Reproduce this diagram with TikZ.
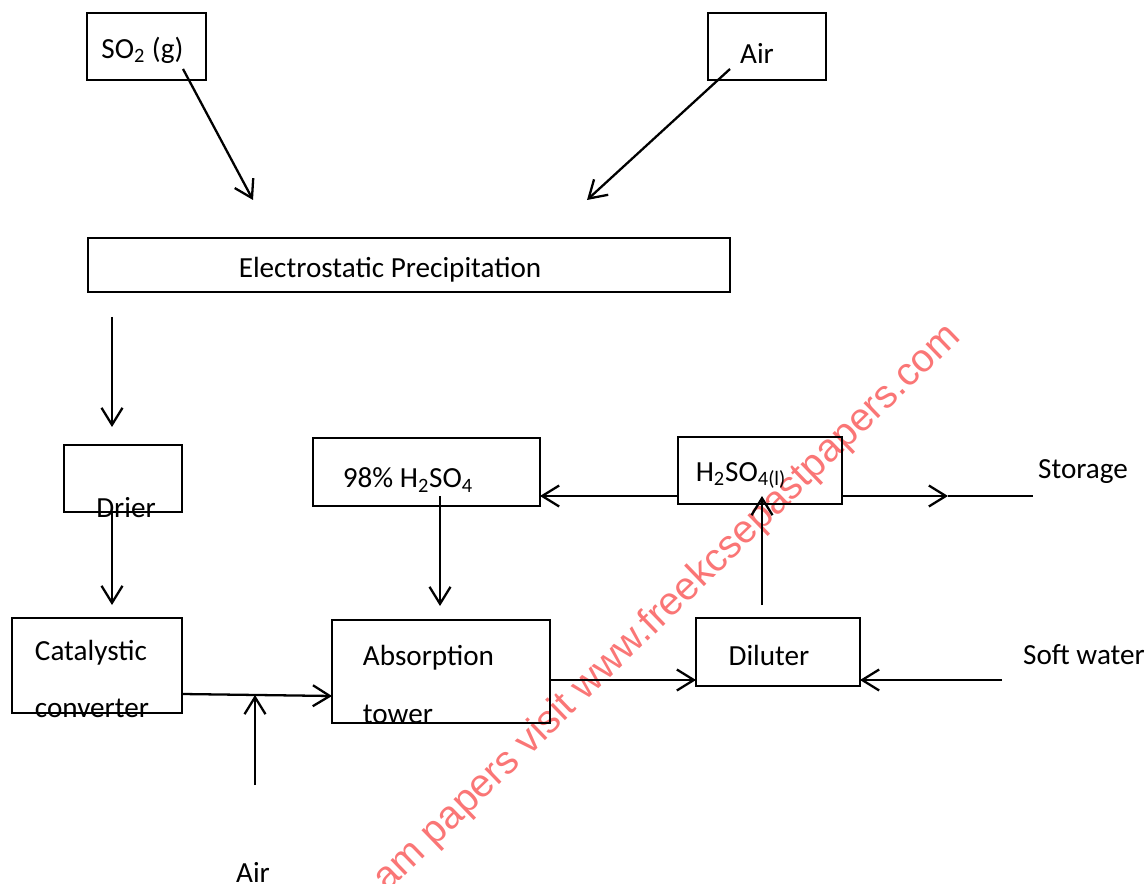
\documentclass[tikz,border=0pt]{standalone}
\usepackage{fontspec}
\setmainfont{Carlito}
\newfontfamily\wmfont{Liberation Sans}
\usetikzlibrary{arrows.meta, positioning, calc}
\definecolor{markred}{RGB}{250,118,118}

\begin{document}
\begin{tikzpicture}[
  x=0.02cm, y=-0.02cm,
  every node/.style={font=\fontsize{16.6}{20}\selectfont},
  box/.style={draw, line width=1.6pt, inner sep=0pt},
  arrow/.style={-{Straight Barb[length=3.4mm, width=4.2mm]}, line width=1.3pt},
  plain/.style={line width=1.3pt}
]
  \useasboundingbox (0,0) rectangle (1148,884);

  % Watermark
  \node[font=\wmfont\fontsize{22.4}{27}\selectfont, text=markred, rotate=44,
        anchor=base east, inner sep=0pt] (wmark) at (962,338)
    {am papers visit www.freekcsepastpapers.com};

  % Boxes
  \node[box, minimum width=2.38cm, minimum height=1.34cm,
        label={[xshift=-0.08cm, yshift=-0.07cm]center:SO\textsubscript{2} (g)}] (so2) at (146.5,46.5) {};
  \node[box, minimum width=2.36cm, minimum height=1.34cm,
        label={[xshift=-0.2cm, yshift=-0.13cm]center:Air}] (airtop) at (767,46.5) {};
  \node[box, minimum width=12.84cm, minimum height=1.08cm,
        label={[xshift=-0.38cm, yshift=-0.1cm]center:Electrostatic Precipitation}] (esp) at (409,265) {};
  \node[box, minimum width=2.36cm, minimum height=1.34cm,
        label={[xshift=0.06cm, yshift=-0.59cm]center:Drier}] (drier) at (123,478.5) {};
  \node[box, minimum width=3.4cm, minimum height=1.9cm,
        label={[align=left, xshift=-0.1cm, yshift=-0.27cm]center:Catalystic\\[12.9pt]converter}] (cat) at (97,665.5) {};
  \node[box, minimum width=4.54cm, minimum height=1.36cm,
        label={[xshift=-0.37cm, yshift=-0.16cm]center:98\% H\textsubscript{2}SO\textsubscript{4}}] (acid98) at (426.5,472) {};
  \node[box, minimum width=4.36cm, minimum height=2.06cm,
        label={[align=left, xshift=-0.25cm, yshift=-0.26cm]center:Absorption\\[12.9pt]tower}] (abs) at (441,671.5) {};
  \node[box, minimum width=3.28cm, minimum height=1.34cm,
        label={[xshift=-0.38cm, yshift=-0.1cm]center:H\textsubscript{2}SO\textsubscript{4(l)}}] (acidl) at (760,470.5) {};
  \node[box, minimum width=3.28cm, minimum height=1.36cm,
        label={[xshift=-0.18cm, yshift=-0.06cm]center:Diluter}] (dil) at (778,652) {};

  % Free labels
  \node (storage) at (1083,472) {Storage};
  \node (soft) at (1084,655) {Soft water};
  \node (airlow) at (253,872) {Air};

  % Connector ends
  \coordinate (so2out) at (183,69);
  \coordinate (espin1) at (253,200);
  \coordinate (airout) at (730,69);
  \coordinate (espin2) at (587,200);
  \coordinate (espout) at (112,317);
  \coordinate (drierin) at (112,427);
  \coordinate (drierout) at (112,512);
  \coordinate (catin) at (112,605);
  \coordinate (catout) at (182,694);
  \coordinate (absin) at (332,696);
  \coordinate (airup) at (255,785);
  \coordinate (airjoin) at (255,695);
  \coordinate (acidout) at (440,496);
  \coordinate (absin2) at (440,606);
  \coordinate (absout) at (550,680);
  \coordinate (dilin) at (696,680);
  \coordinate (softout) at (1002,680);
  \coordinate (dilin2) at (860,680);
  \coordinate (dilout) at (762,605);
  \coordinate (acidlin) at (762,496);
  \coordinate (acidlout) at (678,496);
  \coordinate (acid98in) at (540,496);
  \coordinate (storhead) at (948,496);
  \coordinate (storend) at (1033,496);

  % Arrows
  \draw[arrow] (so2out) -- (espin1);
  \draw[arrow] (airout) -- (espin2);
  \draw[arrow] (espout) -- (drierin);
  \draw[arrow] (drierout) -- (catin);
  \draw[arrow] (catout) -- (absin);
  \draw[arrow] (airup) -- (airjoin);
  \draw[arrow] (acidout) -- (absin2);
  \draw[arrow] (absout) -- (dilin);
  \draw[arrow] (softout) -- (dilin2);
  \draw[arrow] (dilout) -- (acidlin);
  \draw[arrow] (acidlout) -- (acid98in);
  \draw[arrow] (acidl.east |- storhead) -- (storhead);
  \draw[plain] (storhead) -- (storend);

\end{tikzpicture}
\end{document}
